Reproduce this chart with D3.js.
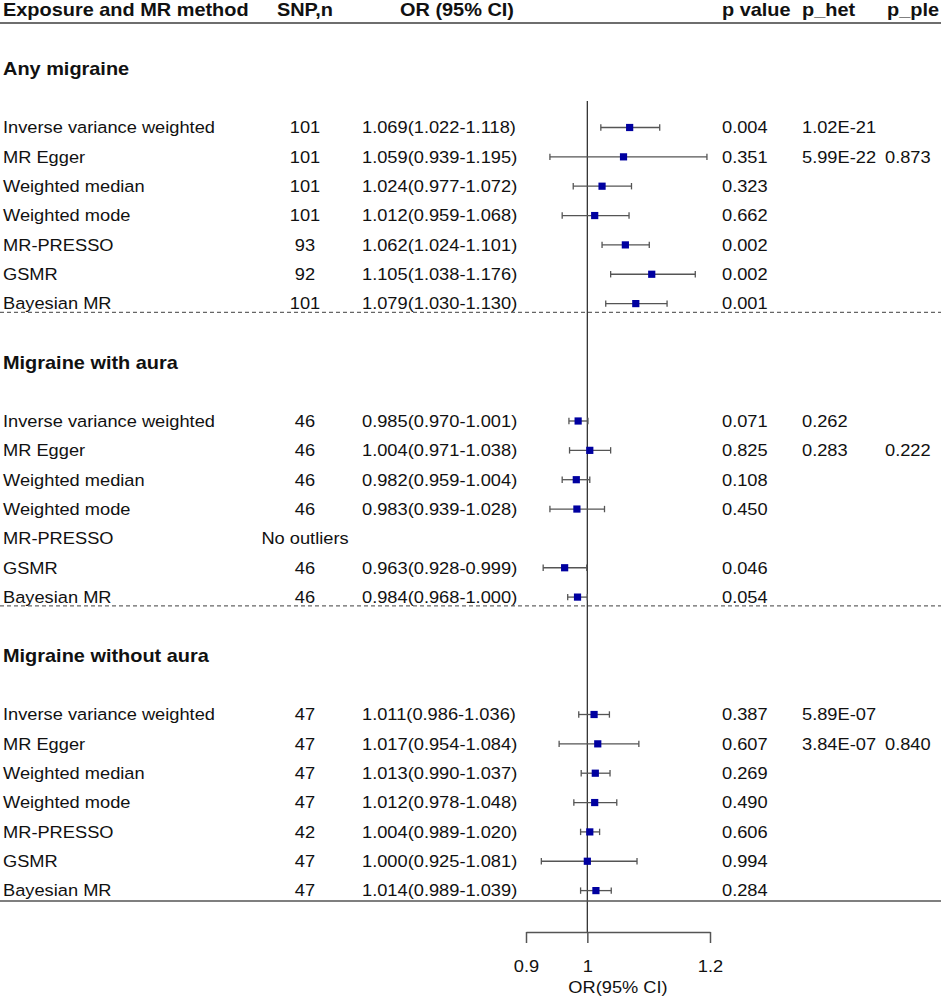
<!DOCTYPE html>
<html>
<head>
<meta charset="utf-8">
<script src="https://cdn.jsdelivr.net/npm/d3@7"></script>
<style>
  body { margin: 0; background: #fff; }
  text { font-family: "Liberation Sans", Arial, sans-serif; fill: #111; }
</style>
</head>
<body>
<div id="chart"></div>
<script>
// table data, one entry per exposure, rows follow the methods order
var methods = ["Inverse variance weighted", "MR Egger", "Weighted median", "Weighted mode", "MR-PRESSO", "GSMR", "Bayesian MR"];
var exposures = ["Any migraine", "Migraine with aura", "Migraine without aura"];

var snpN = [
  [101, 101, 101, 101, 93, 92, 101],
  [46, 46, 46, 46, null, 46, 46],
  [47, 47, 47, 47, 42, 47, 47]
];
var orEst = [
  [1.069, 1.059, 1.024, 1.012, 1.062, 1.105, 1.079],
  [0.985, 1.004, 0.982, 0.983, null, 0.963, 0.984],
  [1.011, 1.017, 1.013, 1.012, 1.004, 1.000, 1.014]
];
var ciLow = [
  [1.022, 0.939, 0.977, 0.959, 1.024, 1.038, 1.030],
  [0.970, 0.971, 0.959, 0.939, null, 0.928, 0.968],
  [0.986, 0.954, 0.990, 0.978, 0.989, 0.925, 0.989]
];
var ciHigh = [
  [1.118, 1.195, 1.072, 1.068, 1.101, 1.176, 1.130],
  [1.001, 1.038, 1.004, 1.028, null, 0.999, 1.000],
  [1.036, 1.084, 1.037, 1.048, 1.020, 1.081, 1.039]
];
var pValue = [
  ["0.004", "0.351", "0.323", "0.662", "0.002", "0.002", "0.001"],
  ["0.071", "0.825", "0.108", "0.450", "", "0.046", "0.054"],
  ["0.387", "0.607", "0.269", "0.490", "0.606", "0.994", "0.284"]
];
var pHet = [
  ["1.02E-21", "5.99E-22"],
  ["0.262", "0.283"],
  ["5.89E-07", "3.84E-07"]
];
var pPle = [
  ["", "0.873"],
  ["", "0.222"],
  ["", "0.840"]
];
var headers = ["Exposure and MR method", "SNP,n", "OR (95% CI)", "p value", "p_het", "p_ple"];
var axisTicks = [0.9, 1, 1.2];
var axisTitle = "OR(95% CI)";

var W = 941, H = 1000;
var SX = 1.12;          // the picture's text is a little stretched sideways
var fsReg = 16.3, fsBold = 17.8;

var svg = d3.select("#chart").append("svg")
  .attr("width", W)
  .attr("height", H);

// row index -> centre y (header 0, section titles 2/12/22, method rows after)
var y = d3.scaleLinear().domain([0, 30]).range([10.1, 890.6]);
var x = d3.scaleLinear().domain([0.9, 1.2]).range([526, 710]);

function addText(px, py, str, bold, anchor) {
  var fs = bold ? fsBold : fsReg;
  svg.append("text")
    .attr("transform", "translate(" + px + "," + (py + 0.358 * fs) + ") scale(" + SX + ",1)")
    .attr("text-anchor", anchor || "start")
    .style("font-size", fs + "px")
    .style("font-weight", bold ? "bold" : "normal")
    .text(str);
}

// column positions
var col = { method: 3, snp: 305, or: 362, p: 722, het: 802, ple: 885 };

// header
addText(col.method, y(0), headers[0], true);
addText(col.snp, y(0), headers[1], true, "middle");
addText(400, y(0), headers[2], true);
addText(col.p, y(0), headers[3], true);
addText(col.het, y(0), headers[4], true);
addText(887, y(0), headers[5], true);

svg.append("line")
  .attr("x1", 0).attr("x2", W)
  .attr("y1", 23).attr("y2", 23)
  .attr("stroke", "#6e6e6e").attr("stroke-width", 2);

// reference line at OR = 1
svg.append("line")
  .attr("x1", x(1)).attr("x2", x(1))
  .attr("y1", 101).attr("y2", 932)
  .attr("stroke", "#333").attr("stroke-width", 1.3);

var f3 = d3.format(".3f");

exposures.forEach(function (ex, e) {
  var base = e * 10;
  addText(col.method, y(base + 2), ex, true);

  methods.forEach(function (m, i) {
    var r = base + 4 + i;
    var cy = y(r);
    addText(col.method, cy, m, false);

    if (orEst[e][i] == null) {
      addText(col.snp, cy, "No outliers", false, "middle");
      return;
    }
    addText(col.snp, cy, String(snpN[e][i]), false, "middle");
    addText(col.or, cy, f3(orEst[e][i]) + "(" + f3(ciLow[e][i]) + "-" + f3(ciHigh[e][i]) + ")", false);
    addText(col.p, cy, pValue[e][i], false);
    if (i < pHet[e].length) {
      addText(col.het, cy, pHet[e][i], false);
      addText(col.ple, cy, pPle[e][i], false);
    }

    // CI whisker with caps
    svg.append("line")
      .attr("x1", x(ciLow[e][i])).attr("x2", x(ciHigh[e][i]))
      .attr("y1", cy).attr("y2", cy)
      .attr("stroke", "#555").attr("stroke-width", 1.3);
    [ciLow[e][i], ciHigh[e][i]].forEach(function (v) {
      svg.append("line")
        .attr("x1", x(v)).attr("x2", x(v))
        .attr("y1", cy - 3.2).attr("y2", cy + 3.2)
        .attr("stroke", "#555").attr("stroke-width", 1.3);
    });
    svg.append("rect")
      .attr("x", x(orEst[e][i]) - 3.6).attr("y", cy - 3.6)
      .attr("width", 7.2).attr("height", 7.2)
      .attr("fill", "#0000a0");
  });

  // dashed separator after the first two blocks
  if (e < exposures.length - 1) {
    svg.append("line")
      .attr("x1", 0).attr("x2", W)
      .attr("y1", y(base + 10.3)).attr("y2", y(base + 10.3))
      .attr("stroke", "#666").attr("stroke-width", 1.2)
      .attr("stroke-dasharray", "4,3");
  }
});

// bottom rule
svg.append("line")
  .attr("x1", 0).attr("x2", W)
  .attr("y1", 901).attr("y2", 901)
  .attr("stroke", "#555").attr("stroke-width", 1.5);

// x axis
var ax = svg.append("g")
  .attr("transform", "translate(0,932)")
  .call(d3.axisBottom(x).tickValues(axisTicks).tickFormat(d3.format("")).tickSize(11).tickSizeOuter(0).tickPadding(17));
ax.select(".domain").attr("stroke", "#555").attr("stroke-width", 1.5);
ax.selectAll(".tick line").attr("stroke", "#555").attr("stroke-width", 1.5);
ax.selectAll(".tick text")
  .attr("fill", "#111")
  .attr("transform", "scale(" + SX + ",1)")
  .style("font-size", fsReg + "px")
  .style("font-family", "'Liberation Sans', Arial, sans-serif");

addText((x.range()[0] + x.range()[1]) / 2, 987, axisTitle, false, "middle");
</script>
</body>
</html>
